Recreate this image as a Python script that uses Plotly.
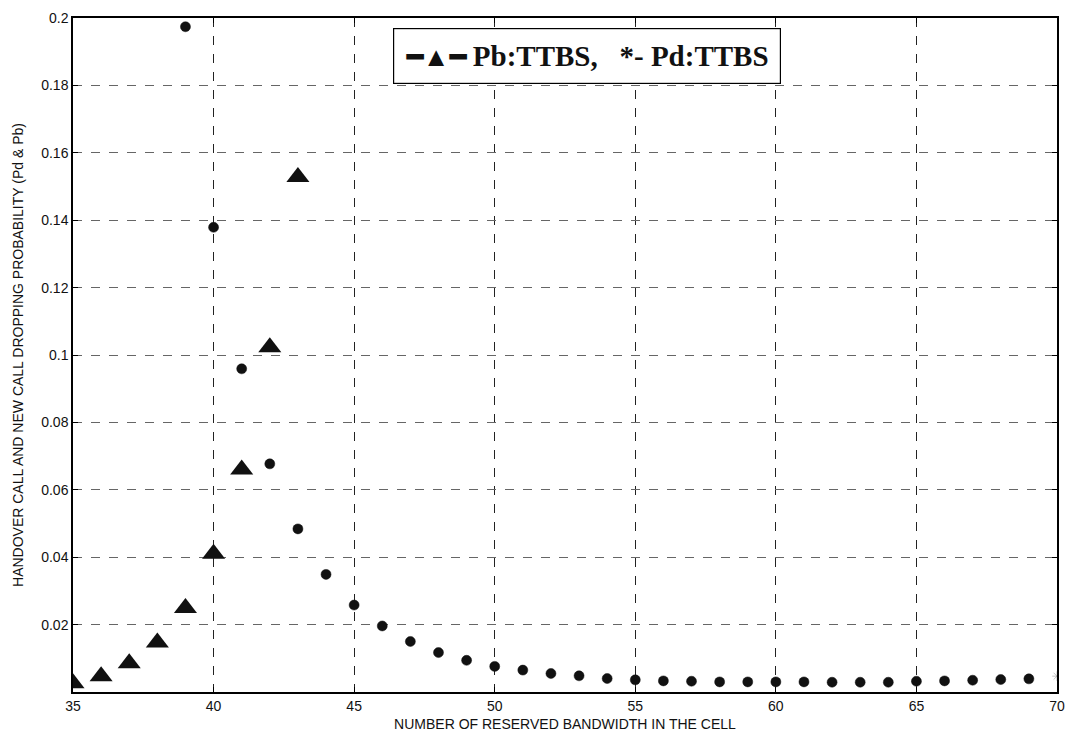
import plotly.graph_objects as go

# Pb:TTBS (triangles)
pb_x = [35, 36, 37, 38, 39, 40, 41, 42, 43]
pb_y = [0.0026, 0.0047, 0.0085, 0.0147, 0.0249, 0.0410, 0.0660, 0.1023, 0.1528]

# Pd:TTBS (dots)
pd_x = list(range(39, 71))
pd_y = [0.1974, 0.1379, 0.0959, 0.0677, 0.0484, 0.0349, 0.0258, 0.0196, 0.0150, 0.0117,
        0.0094, 0.0076, 0.0065, 0.0055, 0.0048, 0.0040, 0.0036, 0.0033, 0.0032, 0.0030,
        0.0030, 0.0030, 0.0030, 0.0029, 0.0029, 0.0029, 0.0032, 0.0033, 0.0035, 0.0037,
        0.0039, 0.0047]

x_ticks = [35, 40, 45, 50, 55, 60, 65, 70]
y_ticks = [0.02, 0.04, 0.06, 0.08, 0.1, 0.12, 0.14, 0.16, 0.18, 0.2]
y_ticktext = ["0.02", "0.04", "0.06", "0.08", "0.1", "0.12", "0.14", "0.16", "0.18", "0.2"]

n = len(pd_x)
pd_symbols = ["circle"] * (n - 1) + ["asterisk-open"]
pd_colors = ["#111111"] * (n - 1) + ["#888888"]
pd_sizes = [10] * (n - 1) + [8]

fig = go.Figure()
fig.add_trace(go.Scatter(
    x=pd_x, y=pd_y, mode="markers", name="Pd:TTBS",
    marker=dict(symbol=pd_symbols, color=pd_colors, size=pd_sizes, opacity=1,
                line=dict(color="#111111", width=0.5)),
))
fig.add_trace(go.Scatter(
    x=pb_x, y=pb_y, mode="markers", name="Pb:TTBS",
    marker=dict(symbol="triangle-up", color="#111111", size=20, opacity=1,
                line=dict(width=0)),
))

axis_font = dict(family="Liberation Sans, Arial, sans-serif", size=14, color="#111111")

fig.update_layout(
    width=1080, height=740,
    margin=dict(l=73, r=23, t=10, b=47),
    paper_bgcolor="white", plot_bgcolor="white",
    showlegend=False,
    font=axis_font,
)
fig.update_xaxes(
    range=[35, 70], tickvals=x_ticks, ticktext=[str(v) for v in x_ticks],
    showline=True, linecolor="black", linewidth=1.5, mirror="ticks",
    ticks="inside", ticklen=5, tickcolor="black",
    showgrid=True, gridcolor="#222222", griddash="dash", gridwidth=1,
    zeroline=False, tickfont=axis_font,
    title=dict(text="NUMBER OF RESERVED BANDWIDTH IN THE CELL", font=axis_font, standoff=7),
)
fig.update_yaxes(
    range=[0, 0.2], tickvals=y_ticks, ticktext=y_ticktext,
    showline=True, linecolor="black", linewidth=1.5, mirror="ticks",
    ticks="inside", ticklen=5, tickcolor="black",
    showgrid=True, gridcolor="#666666", griddash="dash", gridwidth=1,
    zeroline=False, tickfont=axis_font,
    title=dict(text="HANDOVER CALL AND NEW CALL DROPPING PROBABILITY (Pd &amp; Pb)",
               font=axis_font, standoff=14),
)

fig.add_annotation(
    xref="paper", yref="paper", x=(586 - 73) / 983, y=(693 - 49) / 683,
    xanchor="center", yanchor="middle",
    text="<b><span style='font-size:27px'>━▲━</span> Pb:TTBS,   *- Pd:TTBS</b>",
    showarrow=False,
    font=dict(family="Liberation Serif, Times New Roman, serif", size=29, color="#111111"),
    bgcolor="white", bordercolor="black", borderwidth=1.2,
    borderpad=4, width=378, height=46,
)

fig.write_html("out.html")
